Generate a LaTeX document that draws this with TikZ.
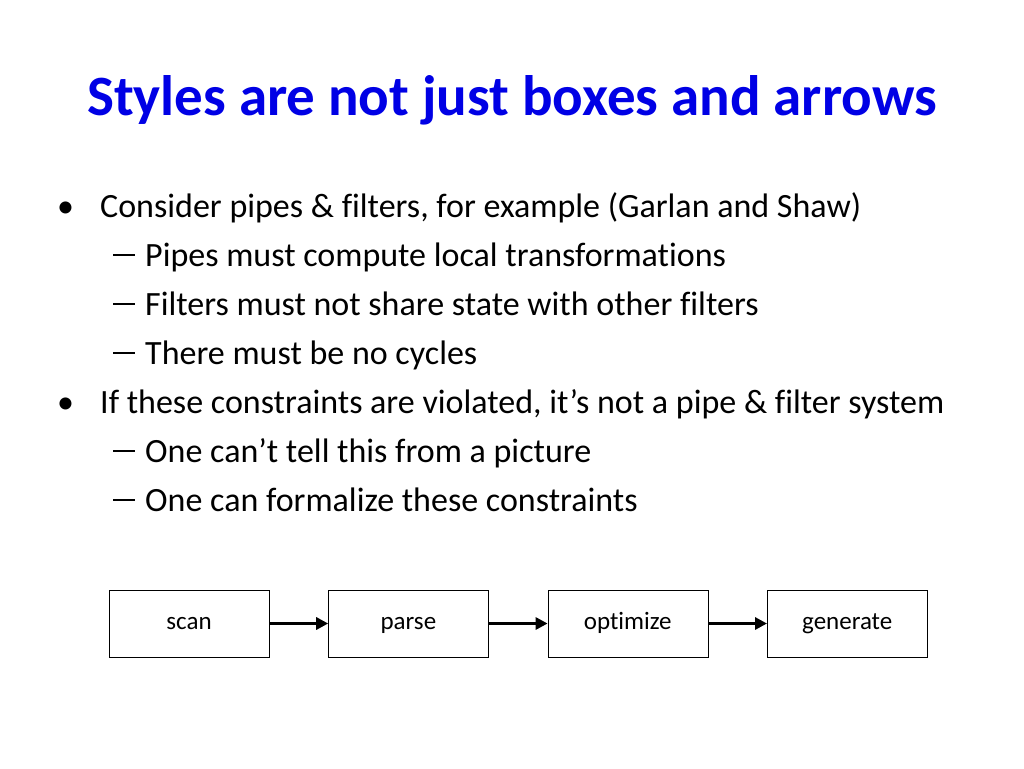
\documentclass[tikz,border=0pt]{standalone}
\usepackage{fontspec}
\setmainfont{Carlito}[Ligatures=NoCommon]
\usetikzlibrary{positioning,arrows.meta}

\newcommand{\subdash}{\rule[10pt]{22pt}{2pt}}
\tikzset{
  bullettext/.style={anchor=base west,inner sep=0pt,font=\fontsize{34}{40}\selectfont},
  stagebox/.style={draw,minimum width=160pt,minimum height=67pt,inner sep=0pt,text height=17pt,text depth=5pt,font=\fontsize{25}{30}\selectfont},
  pipe/.style={line width=3pt,-{Triangle[length=12pt,width=12pt]}}
}

\begin{document}
\begin{tikzpicture}[x=1pt,y=-1pt]
    \useasboundingbox (0,0) rectangle (1024,768);
    \node[anchor=base,text=blue!90!black,font=\fontsize{57}{64}\selectfont\bfseries] (title) at (512,115) {Styles are not just boxes and arrows};
    % bullets
    \node[bullettext] (b1) at (57,217) {\textbullet};
    \node[bullettext] (l1) at (100,217) {Consider pipes \& filters, for example (Garlan and Shaw)};
    \node[bullettext] (d2) at (113,266) {\subdash};
    \node[bullettext] (l2) at (145,266) {Pipes must compute local transformations};
    \node[bullettext] (d3) at (113,315) {\subdash};
    \node[bullettext] (l3) at (145,315) {Filters must not share state with other filters};
    \node[bullettext] (d4) at (113,364) {\subdash};
    \node[bullettext] (l4) at (145,364) {There must be no cycles};
    \node[bullettext] (b2) at (57,413) {\textbullet};
    \node[bullettext] (l5) at (100,413) {If these constraints are violated, it’s not a pipe \& filter system};
    \node[bullettext] (d6) at (113,462) {\subdash};
    \node[bullettext] (l6) at (145,462) {One can’t tell this from a picture};
    \node[bullettext] (d7) at (113,511) {\subdash};
    \node[bullettext] (l7) at (145,511) {One can formalize these constraints};
    % pipeline
    \node[stagebox] (scan) at (189,623.5) {scan};
    \node[stagebox,right=59pt of scan] (parse) {parse};
    \node[stagebox,right=59pt of parse] (optimize) {optimize};
    \node[stagebox,right=59pt of optimize] (generate) {generate};
    \draw[pipe] (scan) -- (parse);
    \draw[pipe] (parse) -- (optimize);
    \draw[pipe] (optimize) -- (generate);
\end{tikzpicture}
\end{document}
